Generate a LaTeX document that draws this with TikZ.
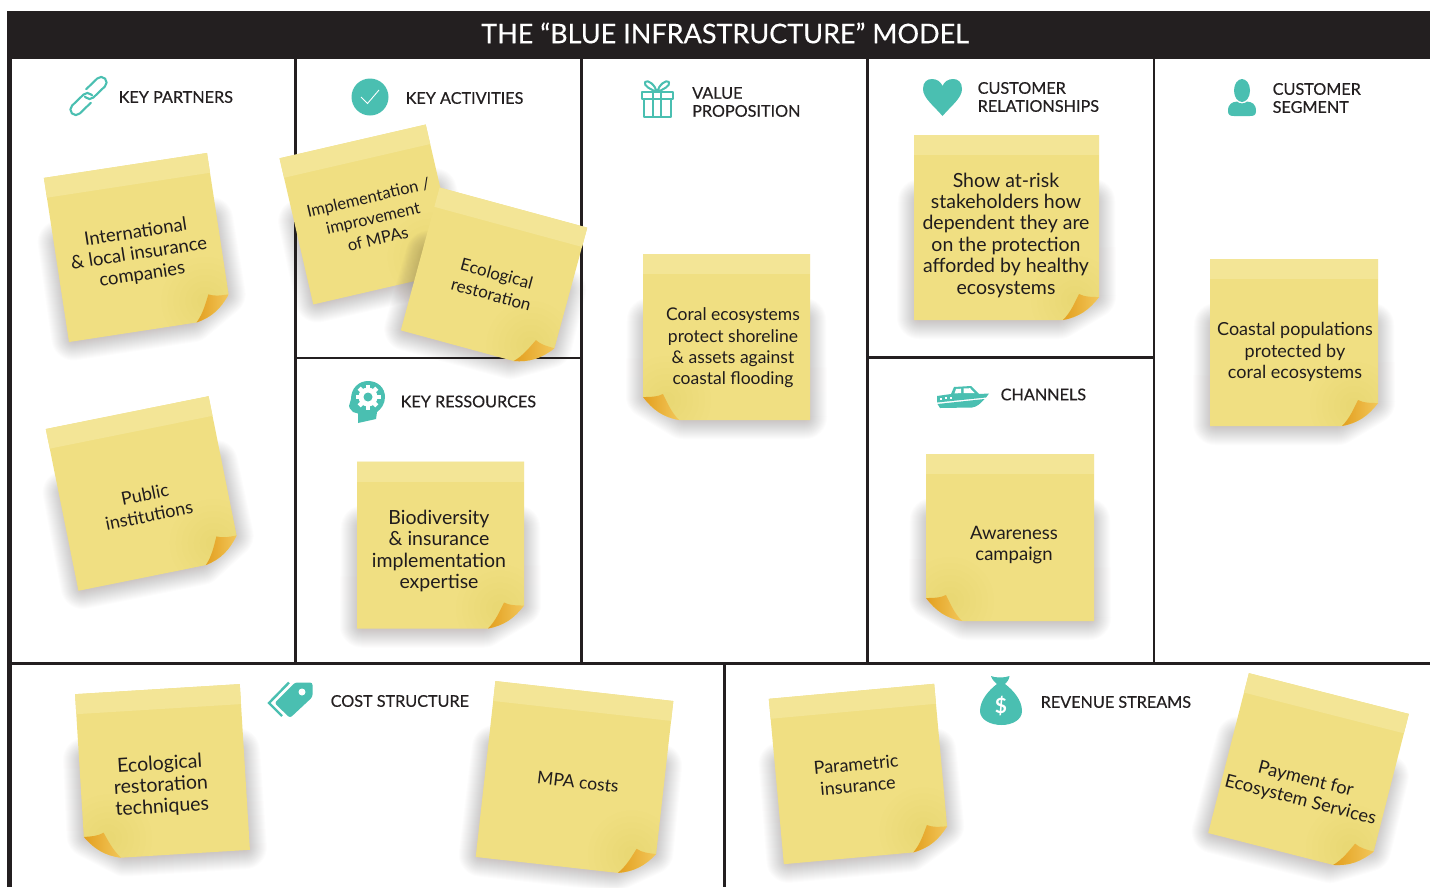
\documentclass[tikz,border=0pt]{standalone}
\usepackage{fontspec}
\setmainfont{Lato}
\newfontfamily\headfont[FakeBold=0.4]{Lato}
\definecolor{ink}{HTML}{231F20}
\definecolor{teal}{HTML}{4ABFB1}
\definecolor{noteY}{HTML}{F0DF82}
\definecolor{noteB}{HTML}{F3E596}
\definecolor{flapA}{HTML}{E39F1F}
\definecolor{flapB}{HTML}{F2C75A}
\definecolor{shadowC}{HTML}{5A4A40}
\tikzset{
  grid/.style={ink,line width=2.6pt},
  heading/.style={anchor=west,inner sep=0pt,align=left,text=ink,font=\headfont\fontsize{16.2}{18}\selectfont},
  notetext/.style={inner sep=0pt,align=center,text=ink!90!black,font=\fontsize{18.5}{21.4}\selectfont},
  iconline/.style={teal,line width=2.1pt,line cap=round,line join=round},
}
\newcommand{\fs}[1]{\fontsize{#1}{21.4}\selectfont}
% name, cx, cy, rot, w, h, side(1 = fold right, -1 = fold left), text centre, text
\newcommand{\sticky}[9]{%
  \begin{scope}[shift={(#2,#3)},rotate=#4,xscale=#7]
    \pgfmathsetmacro{\a}{#5/2}
    \pgfmathsetmacro{\b}{#6/2}
    \foreach \lw in {2,4,...,44}{
      \draw[shadowC,opacity=0.014,line width=\lw pt,line join=round]
        ({-\a+6},{-\b+66}) -- ({\a-6},{-\b+66}) -- ({\a-5},{\b-24}) -- ({\a-40},{\b-3}) -- ({-\a+5},{\b-3}) -- cycle;
    }
    \def\outline{({-\a},{-\b}) -- ({\a},{-\b}) -- ({\a},{\b-23}) .. controls ({\a-10},{\b-10}) and ({\a-20},{\b-3}) .. ({\a-36},{\b}) -- ({-\a},{\b}) -- cycle}
    \fill[noteY] \outline;
    \begin{scope}
      \clip \outline;
      \foreach \r in {8,14,...,44}{
        \fill[flapA,opacity=0.01] ({\a-24},{\b-20}) circle (\r pt);
      }
    \end{scope}
    \fill[noteB] ({-\a},{-\b}) rectangle ({\a},{-\b+20});
    \shade[left color=flapA,right color=flapB]
      ({\a-36},{\b}) .. controls ({\a-28},{\b-8}) and ({\a-24},{\b-18}) .. ({\a-20},{\b-26})
      .. controls ({\a-14},{\b-23}) and ({\a-8},{\b-23}) .. ({\a},{\b-23})
      .. controls ({\a-10},{\b-10}) and ({\a-20},{\b-3}) .. ({\a-36},{\b}) -- cycle;
  \end{scope}
  \node[notetext,rotate=#4] (#1) at (#8) {#9};
}
\begin{document}
\begin{tikzpicture}[x=1pt,y=-1pt]
\useasboundingbox (0,0) rectangle (1430,887);
\fill[white] (0,0) rectangle (1430,887);

% frame
\fill[ink] (7,11) rectangle (1430,58.5);
\fill[ink] (7,58) rectangle (12,887);
\draw[grid] (295.5,58) -- (295.5,663);
\draw[grid] (581.5,58) -- (581.5,663);
\draw[grid] (867.5,58) -- (867.5,663);
\draw[grid] (1154,58) -- (1154,663);
\draw[grid] (295.5,358) -- (581.5,358);
\draw[grid] (867.5,357.5) -- (1154,357.5);
\draw[ink,line width=3pt] (10,663) -- (1430,663);
\draw[grid] (724.5,663) -- (724.5,887);
\node[inner sep=0pt,text=white,font=\headfont\fontsize{27}{30}\selectfont] (title) at (725,33) {THE “BLUE INFRASTRUCTURE” MODEL};

% headings
\node[heading] (hpartners) at (118.5,97) {KEY PARTNERS};
\node[heading] (hactivities) at (405.5,98) {KEY ACTIVITIES};
\node[heading] (hvalue) at (692,102) {VALUE\\PROPOSITION};
\node[heading] (hrel) at (977.5,97) {CUSTOMER\\RELATIONSHIPS};
\node[heading] (hseg) at (1272.5,98) {CUSTOMER\\SEGMENT};
\node[heading] (hres) at (400.5,401.5) {KEY RESSOURCES};
\node[heading] (hchan) at (1000.5,394.5) {CHANNELS};
\node[heading] (hcost) at (330.5,701) {COST STRUCTURE};
\node[heading] (hrev) at (1040.5,702) {REVENUE STREAMS};

% icon: link
\begin{scope}[shift={(88.5,96)},rotate=44]
  \draw[iconline,rounded corners=5.5pt] (-3,6.5) -- (-24,6.5) -- (-24,-4.5) -- (3,-4.5) -- (3,2);
  \draw[iconline,rounded corners=5.5pt] (3,-6.5) -- (24,-6.5) -- (24,4.5) -- (-3,4.5) -- (-3,-2);
\end{scope}
% icon: check
\fill[teal] (370,97) ellipse (18.5pt and 18.5pt);
\draw[white,line width=0.9pt] (361,97) -- (367.5,103.5) -- (379,90);
% icon: gift
\begin{scope}[teal,line width=2pt,line join=round]
  \draw (641.5,92) rectangle (672.5,99);
  \draw (643.5,99) rectangle (671,117);
  \draw (653,92) -- (653,117);
  \draw (661,92) -- (661,117);
  \draw (657,92) .. controls (652,90) and (643,86) .. (645,82) .. controls (648,79) and (655,85) .. (657,92);
  \draw (657,92) .. controls (662,90) and (671,86) .. (669,82) .. controls (666,79) and (659,85) .. (657,92);
\end{scope}
% icon: heart
\fill[teal] (942.5,116) .. controls (934,106) and (923,98) .. (923,89)
  .. controls (923,82) and (927,79) .. (932,79)
  .. controls (937,79) and (941,82) .. (942.5,86)
  .. controls (944,82) and (948,79) .. (953,79)
  .. controls (958,79) and (962,82) .. (962,89)
  .. controls (962,98) and (951,106) .. (942.5,116) -- cycle;
% icon: person
\fill[teal] (1242,90.5) ellipse (8pt and 11.5pt);
\fill[teal] (1228,111) .. controls (1228,104) and (1232,102) .. (1237,101.5)
  .. controls (1239,104) and (1245,104) .. (1247,101.5)
  .. controls (1252,102) and (1256,104) .. (1256,111)
  .. controls (1256,115) and (1254,116) .. (1250,116) -- (1234,116)
  .. controls (1230,116) and (1228,115) .. (1228,111) -- cycle;
% icon: head with gear
\fill[teal] (358,423) -- (358,413.5) -- (353,412) .. controls (351,409) and (348,408) .. (349,406)
  -- (351,399) .. controls (351,388) and (359,381) .. (368,381)
  .. controls (378,381) and (385,388) .. (385,397)
  .. controls (385,404) and (381,409) .. (377,412) -- (376,419) -- cycle;
\foreach \t in {0,45,...,315}{
  \fill[white,rotate around={\t:(368,397)}] (365.8,384.5) rectangle (370.2,390);
}
\fill[white] (368,397) circle (9.5pt);
\fill[teal] (368,397) circle (4.5pt);
% icon: boat
\fill[teal] (937,396) -- (951,394) -- (954,387) -- (971,386) -- (979,394) -- (989,393.5) -- (986,397.5) -- (937,402.5) -- cycle;
\fill[teal] (937.5,404) -- (984.5,399) .. controls (981,403) and (977,407) .. (972,407.5) -- (940,408) -- cycle;
\fill[white] (956,389) -- (961,388.7) -- (961,393) -- (954.5,393.5) -- cycle;
\fill[white] (963.5,388.5) -- (970,388.2) -- (974.5,393) -- (963.5,393) -- cycle;
\fill[white] (939.5,397.5) rectangle (942,399.5);
\fill[white] (944.5,397) rectangle (947,399);
\fill[white] (949.5,396.5) rectangle (952,398.5);
% icon: tag
\fill[teal,rounded corners=2.5pt] (274.5,703) -- (295,682.5) -- (312.5,682.5) -- (312.5,697) -- (290,718) -- cycle;
\fill[white] (302,692) circle (3.5pt);
\draw[teal,line width=2.4pt] (289,682.5) -- (269,703) -- (282,716);
% icon: money bag
\fill[teal] (991,676) .. controls (995,678) and (1005,678) .. (1009.5,676)
  .. controls (1009,680) and (1007,682) .. (1005,684)
  .. controls (1013,690) and (1022,700) .. (1022,711)
  .. controls (1022,720) and (1012,725) .. (1001.5,725)
  .. controls (991,725) and (980,720) .. (980,711)
  .. controls (980,700) and (989,690) .. (997,684)
  .. controls (995,682) and (992,680) .. (991,676) -- cycle;
\node[inner sep=0pt,text=white,font=\fontsize{21}{21}\selectfont\bfseries] (dollar) at (1001,706.5) {\$};

% sticky notes
\sticky{n1}{138}{247.5}{8.7}{165}{166}{1}{139,254}{International\\\& local insurance\\companies}
\sticky{n2}{143.5}{493.5}{11.4}{166}{165}{1}{147,505}{\fs{18}Public\\\fs{18}institutions}
\sticky{n3}{369.5}{214.5}{13}{150}{150}{1}{373,218}{\fontsize{16.5}{18.5}\selectfont Implementation /\\\fontsize{16.5}{18.5}\selectfont improvement\\\fontsize{16.5}{18.5}\selectfont of MPAs}
\sticky{n4}{494}{279}{-15.2}{153}{148}{1}{494,284}{\fontsize{17}{20}\selectfont Ecological\\\fontsize{17}{20}\selectfont restoration}
\sticky{n5}{440.5}{545}{0}{167}{167}{1}{439,551}{\fs{19.5}Biodiversity\\\fs{19.5}\& insurance\\\fs{19.5}implementation\\\fs{19.5}expertise}
\sticky{n6}{726.5}{337}{0}{167}{166}{-1}{733,348}{\fs{17.5}Coral ecosystems\\\fs{17.5}protect shoreline\\\fs{17.5}\& assets against\\\fs{17.5}coastal flooding}
\sticky{n7}{1006.5}{227.5}{0}{185}{185}{1}{1006,235}{\fs{19.5}Show at-risk\\\fs{19.5}stakeholders how\\\fs{19.5}dependent they are\\\fs{19.5}on the protection\\\fs{19.5}afforded by healthy\\\fs{19.5}ecosystems}
\sticky{n8}{1010}{537.5}{0}{168}{167}{-1}{1014,545}{Awareness\\campaign}
\sticky{n9}{1294}{342.5}{0}{168}{167}{1}{1295,352}{\fs{18}Coastal populations\\\fs{18}protected by\\\fs{18}coral ecosystems}
\sticky{n10}{162.5}{772}{3.5}{165}{166}{-1}{161,786}{\fs{19.5}Ecological\\\fs{19.5}restoration\\\fs{19.5}techniques}
\sticky{n11}{574.5}{779}{-6.4}{179}{177}{1}{578,782}{\fs{17.5}MPA costs}
\sticky{n12}{859}{774}{5.2}{166}{166}{1}{857,775}{\fs{18}Parametric\\\fs{18}insurance}
\sticky{n13}{1308.5}{773.5}{-14.3}{165}{165}{1}{1303,790}{\fs{18.2}Payment for\\\fs{18.2}Ecosystem Services}
\end{tikzpicture}
\end{document}
